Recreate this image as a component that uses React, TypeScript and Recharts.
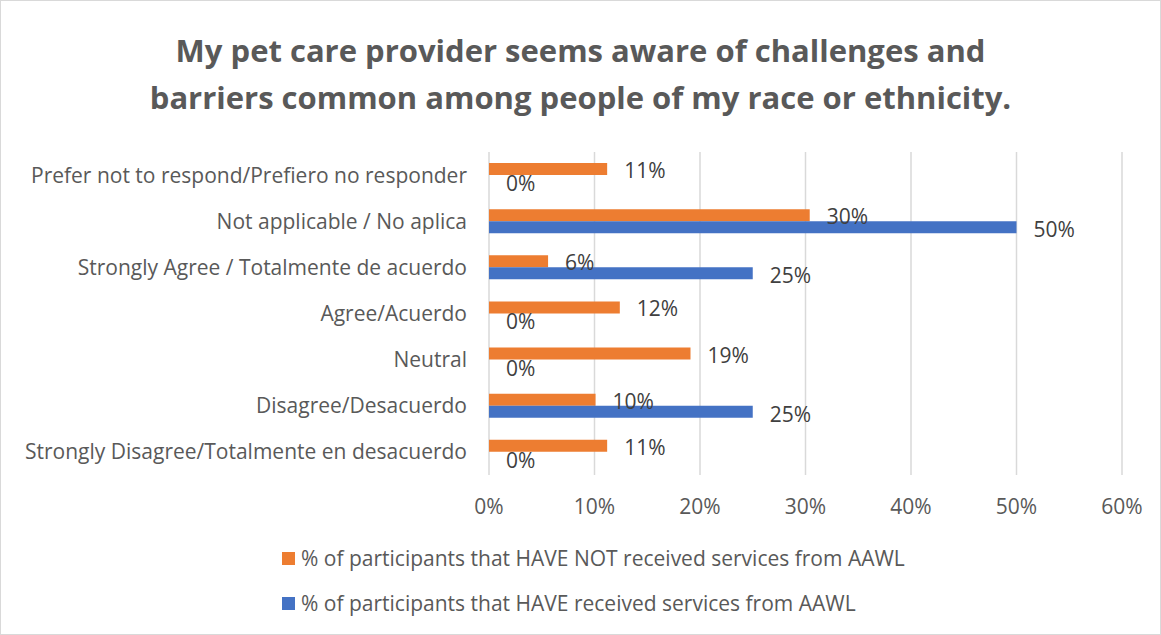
import React from "react";
import { BarChart, Bar, XAxis, YAxis, CartesianGrid, LabelList } from "recharts";

const categories = [
  "Prefer not to respond/Prefiero no responder",
  "Not applicable / No aplica",
  "Strongly Agree / Totalmente de acuerdo",
  "Agree/Acuerdo",
  "Neutral",
  "Disagree/Desacuerdo",
  "Strongly Disagree/Totalmente en desacuerdo",
];
const haveNot = [0.112, 0.304, 0.056, 0.124, 0.191, 0.101, 0.112];
const have = [0, 0.5, 0.25, 0, 0, 0.25, 0];
const xTicks = [0, 0.1, 0.2, 0.3, 0.4, 0.5, 0.6];
const seriesNames = [
  "% of participants that HAVE NOT received services from AAWL",
  "% of participants that HAVE received services from AAWL",
];
const titleLines = [
  "My pet care provider seems aware of challenges and",
  "barriers common among people of my race or ethnicity.",
];

const ORANGE = "#ED7D31";
const BLUE = "#4472C4";
const TEXT = "#595959";
const FONT = "'Open Sans', 'Liberation Sans', Arial, sans-serif";
const FS = 21;

const data = categories.map((c, i) => ({ name: c, haveNot: haveNot[i], have: have[i] }));

const pct = (v: number) => `${Math.round(v * 100)}%`;

const labelText = (x: number, y: number, v: number, key: string) => (
  <text key={key} x={x} y={y} fill="#404040" fontSize={FS} fontFamily={FONT} dominantBaseline="central">
    {pct(v)}
  </text>
);

// Orange label; also draws the label of a zero-length blue bar in the slot below,
// since the library does not emit label entries for zero-size bars.
const OrangeLabel = (props: any) => {
  const { x, y, width, height, value, index } = props;
  const out = [labelText(x + width + 17, y + height / 2 + 1, value, "o")];
  if (have[index] === 0) {
    out.push(labelText(x + 17, y + height * 1.5 + 2, have[index], "b"));
  }
  return <g>{out}</g>;
};

const BlueLabel = (props: any) => {
  const { x, y, width, height, value } = props;
  if (!value) return null;
  return labelText(x + width + 17, y + height / 2 + 2, value, "b");
};

export default function App() {
  return (
    <div
      style={{
        position: "absolute",
        left: 0,
        top: 0,
        width: 1159,
        height: 633,
        border: "1px solid #d9d9d9",
        background: "#fff",
        overflow: "hidden",
      }}
    >
      <div
        style={{
          position: "absolute",
          left: 0,
          top: 26,
          width: 1159,
          textAlign: "center",
          fontFamily: FONT,
          fontWeight: "bold",
          fontSize: 31,
          lineHeight: "47px",
          color: TEXT,
        }}
      >
        {titleLines.map((l) => (
          <div key={l}>{l}</div>
        ))}
      </div>
      <div style={{ position: "absolute", left: -1, top: -1 }}>
        <BarChart
          width={1161}
          height={635}
          data={data}
          layout="vertical"
          margin={{ top: 152, right: 39, bottom: 130, left: 19 }}
          barSize={12}
          barGap={0}
        >
          <CartesianGrid horizontal={false} vertical={true} stroke="#d9d9d9" strokeWidth={1.5} />
          <XAxis
            type="number"
            domain={[0, 0.6]}
            ticks={xTicks}
            tickFormatter={pct}
            axisLine={false}
            tickLine={false}
            tickSize={0}
            tickMargin={24}
            height={30}
            tick={{ fill: TEXT, fontSize: FS, fontFamily: FONT }}
            interval={0}
          />
          <YAxis
            type="category"
            dataKey="name"
            width={470}
            axisLine={false}
            tickLine={false}
            tickSize={0}
            tickMargin={22}
            tick={{ fill: TEXT, fontSize: FS, fontFamily: FONT }}
            interval={0}
          />
          <Bar dataKey="haveNot" name={seriesNames[0]} fill={ORANGE} isAnimationActive={false}>
            <LabelList dataKey="haveNot" content={<OrangeLabel />} />
          </Bar>
          <Bar dataKey="have" name={seriesNames[1]} fill={BLUE} isAnimationActive={false}>
            <LabelList dataKey="have" content={<BlueLabel />} />
          </Bar>
        </BarChart>
      </div>
      <div style={{ position: "absolute", left: 281, top: 546, fontFamily: FONT, fontSize: FS, color: TEXT }}>
        {seriesNames.map((n, i) => (
          <div
            key={n}
            style={{ display: "flex", alignItems: "center", height: 22, lineHeight: "22px", marginBottom: i === 0 ? 23 : 0 }}
          >
            <span style={{ display: "inline-block", width: 13, height: 13, background: i === 0 ? ORANGE : BLUE, marginRight: 6 }} />
            <span>{n}</span>
          </div>
        ))}
      </div>
    </div>
  );
}
